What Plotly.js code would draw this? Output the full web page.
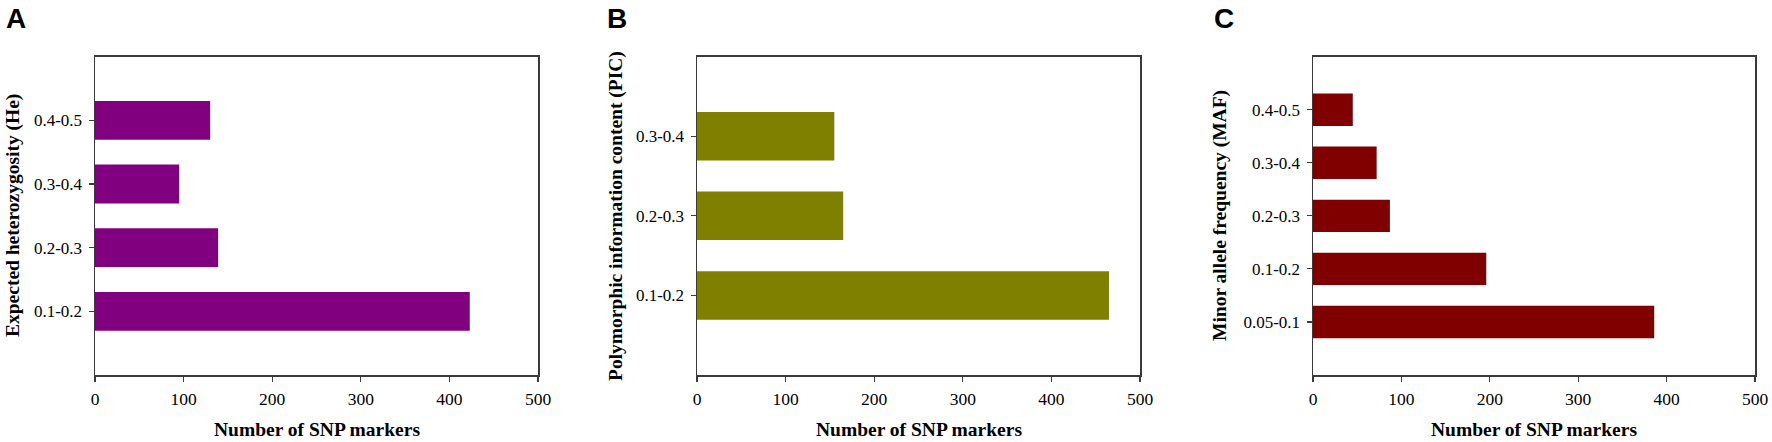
<!DOCTYPE html>
<html>
<head>
<meta charset="utf-8">
<script src="https://cdn.plot.ly/plotly-3.0.1.min.js"></script>
<style>
  html, body { margin: 0; padding: 0; background: #ffffff; }
  #chart { width: 1772px; height: 442px; }
</style>
</head>
<body>
<div id="chart"></div>
<script>
// ---- Data ----
const heCategories  = ["0.1-0.2", "0.2-0.3", "0.3-0.4", "0.4-0.5"];
const heCounts      = [423, 139, 95, 130];

const picCategories = ["0.1-0.2", "0.2-0.3", "0.3-0.4"];
const picCounts     = [465, 165, 155];

const mafCategories = ["0.05-0.1", "0.1-0.2", "0.2-0.3", "0.3-0.4", "0.4-0.5"];
const mafCounts     = [386, 196, 87, 72, 45];

const xTickValues = [0, 100, 200, 300, 400, 500];
const xTickLabels = ["0", "100", "200", "300", "400", "500"];

const panelLetters = ["A", "B", "C"];
const yTitles = ["Expected heterozygosity (He)", "Polymorphic information content (PIC)", "Minor allele frequency (MAF)"];
const xTitle = "Number of SNP markers";

// ---- Styling / layout ----
const W = 1772, H = 442;
const px = v => v / W;
const py = v => 1 - v / H;

const colors = ["#800080", "#808000", "#800000"];
const frames = [[95, 538], [697, 1140], [1313, 1755]];
const frameTop = 56.7, frameBottom = 375;
const yTitleX = [13, 616, 1220];
const letterX = [4, 605, 1212];

const serif = "Liberation Serif, Times New Roman, serif";
const lineColor = "#3a3a3a";

const cats = [heCategories, picCategories, mafCategories];
const vals = [heCounts, picCounts, mafCounts];

const data = [];
const layout = {
  width: W, height: H,
  margin: {l: 0, r: 0, t: 0, b: 0},
  paper_bgcolor: "#ffffff",
  plot_bgcolor: "#ffffff",
  showlegend: false,
  bargap: 0.39,
  annotations: []
};

for (let i = 0; i < 3; i++) {
  const xa = i === 0 ? "x" : "x" + (i + 1);
  const ya = i === 0 ? "y" : "y" + (i + 1);
  data.push({
    type: "bar",
    orientation: "h",
    x: vals[i],
    y: cats[i],
    xaxis: xa, yaxis: ya,
    marker: {color: colors[i], line: {width: 0}},
    hoverinfo: "skip"
  });
  const xKey = i === 0 ? "xaxis" : "xaxis" + (i + 1);
  const yKey = i === 0 ? "yaxis" : "yaxis" + (i + 1);
  layout[xKey] = {
    domain: [px(frames[i][0]), px(frames[i][1])],
    anchor: ya,
    range: [0, 500],
    tickmode: "array",
    tickvals: xTickValues,
    ticktext: xTickLabels,
    ticks: "outside", ticklen: 5, tickwidth: 1.2, tickcolor: lineColor,
    ticklabelstandoff: 2,
    showline: true, linecolor: lineColor, linewidth: 1.5, mirror: true,
    showgrid: false, zeroline: false,
    tickfont: {family: serif, size: 17.5, color: "#000000"},
    automargin: false, fixedrange: true
  };
  layout[yKey] = {
    domain: [py(frameBottom), py(frameTop)],
    anchor: xa,
    type: "category",
    categoryorder: "array",
    categoryarray: cats[i],
    range: [-1, cats[i].length],
    ticks: "outside", ticklen: 5, tickwidth: 1.2, tickcolor: lineColor,
    ticklabelstandoff: 3,
    showline: true, linecolor: lineColor, linewidth: 1.5, mirror: true,
    showgrid: false, zeroline: false,
    tickfont: {family: serif, size: 17, color: "#000000"},
    automargin: false, fixedrange: true
  };
  // y-axis title
  layout.annotations.push({
    text: "<b>" + yTitles[i] + "</b>",
    xref: "paper", yref: "paper",
    x: px(yTitleX[i]), y: py(216),
    xanchor: "center", yanchor: "middle",
    textangle: -90, showarrow: false,
    font: {family: serif, size: 19.5, color: "#000000"}
  });
  // x-axis title
  layout.annotations.push({
    text: "<b>" + xTitle + "</b>",
    xref: "paper", yref: "paper",
    x: px((frames[i][0] + frames[i][1]) / 2), y: py(429),
    xanchor: "center", yanchor: "middle",
    showarrow: false,
    font: {family: serif, size: 19.5, color: "#000000"}
  });
  // panel letter
  layout.annotations.push({
    text: "<b>" + panelLetters[i] + "</b>",
    xref: "paper", yref: "paper",
    x: px(letterX[i]), y: py(18.5),
    xanchor: "left", yanchor: "middle",
    showarrow: false,
    font: {family: "Liberation Sans, Arial, sans-serif", size: 28, color: "#000000"}
  });
}

Plotly.newPlot("chart", data, layout, {displayModeBar: false, staticPlot: true});
</script>
</body>
</html>
